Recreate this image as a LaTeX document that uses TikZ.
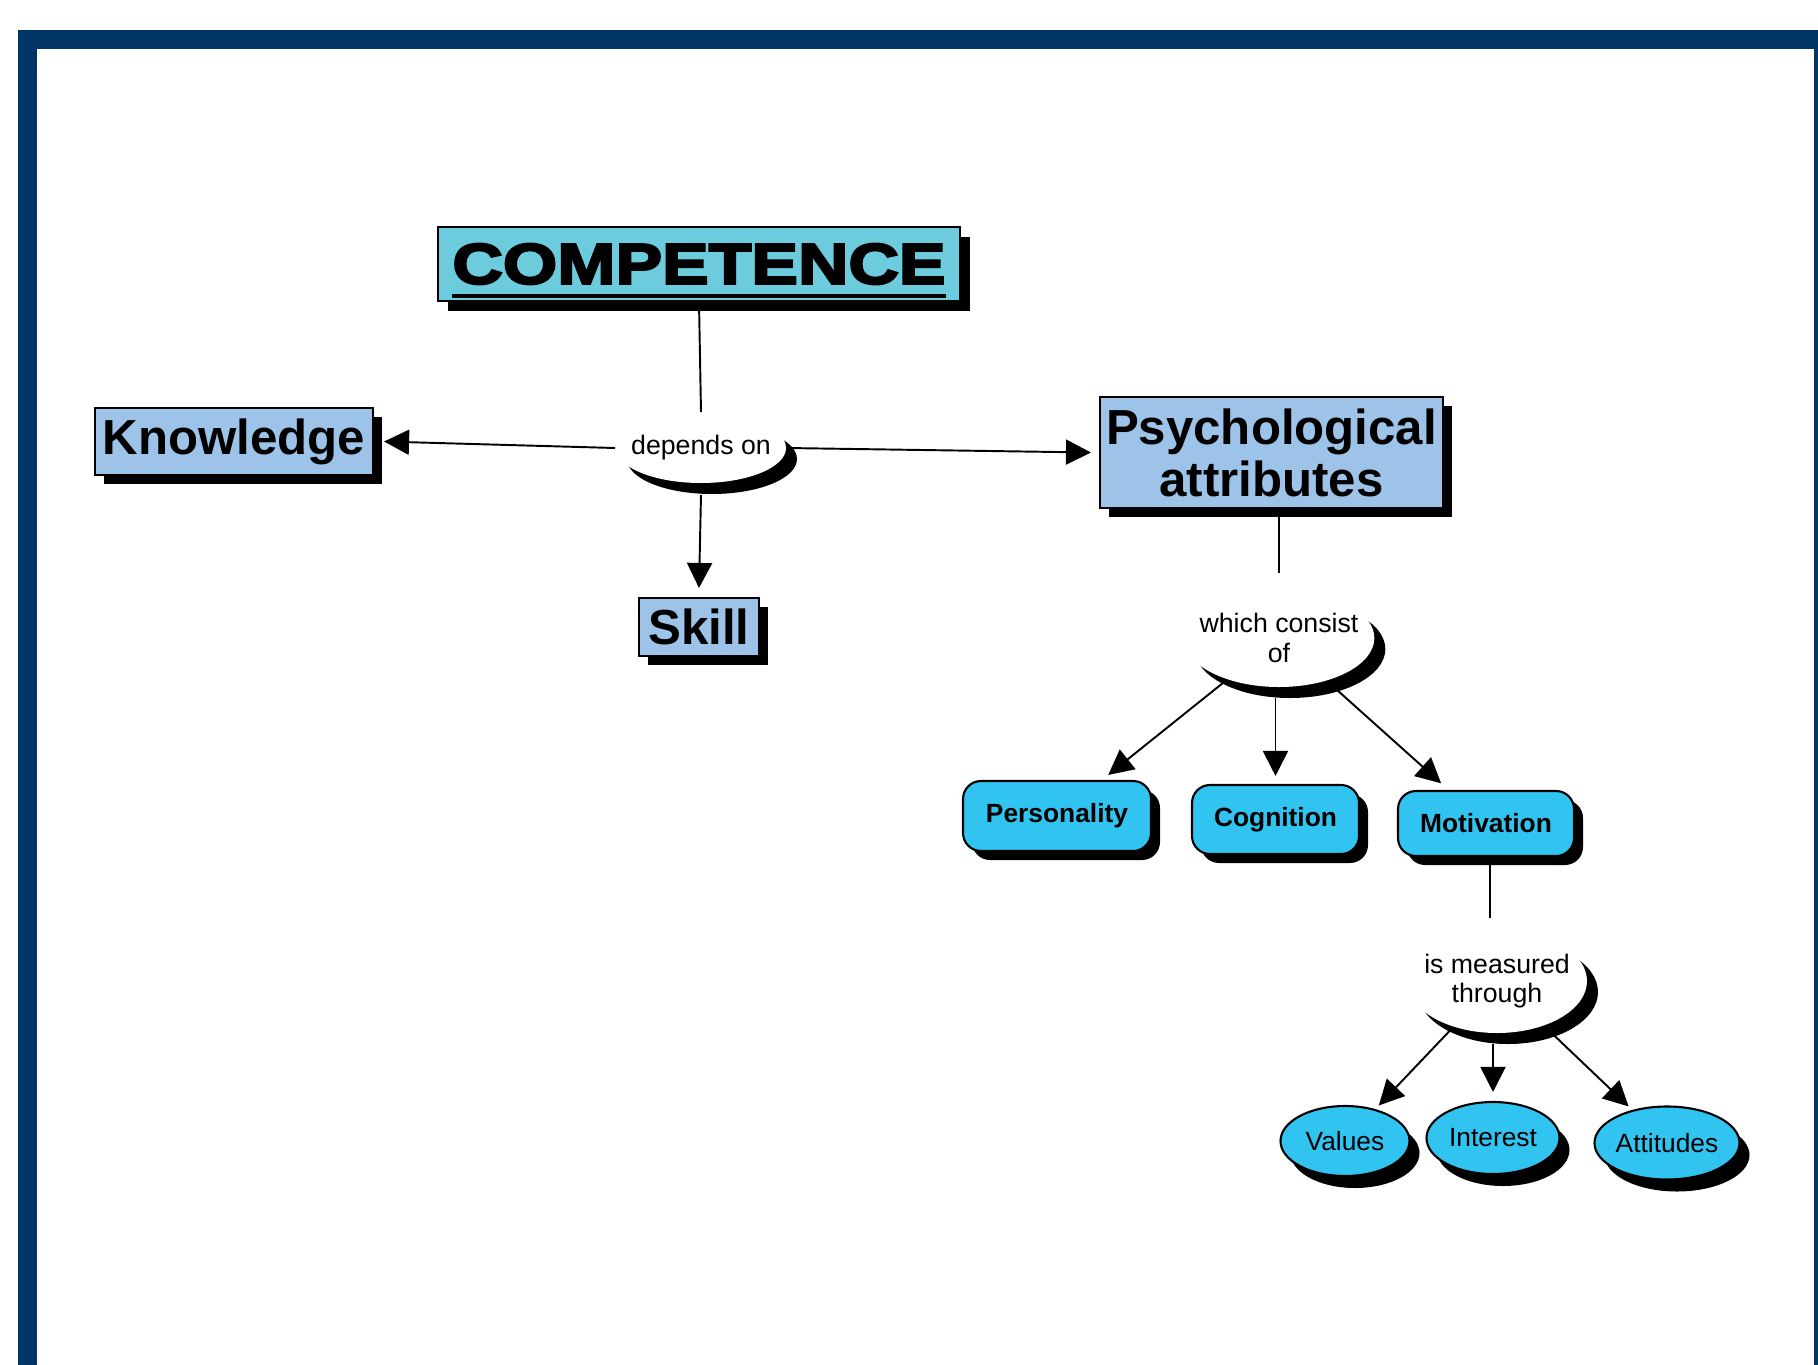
\documentclass[tikz,border=0pt]{standalone}
\usepackage{fontspec}
\setmainfont{Liberation Sans}
\newfontfamily\titlefont[FakeStretch=1.22,FakeBold=4]{Liberation Sans Bold}
\usetikzlibrary{positioning,arrows.meta,shapes.geometric,shadows}
\definecolor{frameNavy}{RGB}{0,53,102}
\definecolor{titleTeal}{RGB}{108,203,220}
\definecolor{conceptBlue}{RGB}{157,196,232}
\definecolor{traitCyan}{RGB}{50,196,240}
\newcommand{\thickUl}[1]{\leavevmode\setbox0\hbox{#1}%
  \rlap{\smash{\rule[-0.14cm]{\wd0}{0.035cm}}}\box0}

\begin{document}
\begin{tikzpicture}[
  line width=0.55pt,
  blackShadow/.style 2 args={drop shadow={shadow xshift=#1, shadow yshift=-#2,
                             fill=black, opacity=1}},
  compBox/.style={draw, line width=0.6pt, fill=titleTeal, inner sep=0pt,
                  minimum width=5.22cm, minimum height=0.74cm,
                  font=\fontsize{16.3}{17}\titlefont, blackShadow={0.1cm}{0.1cm}},
  conceptBox/.style={draw, line width=0.6pt, fill=conceptBlue, inner sep=0pt,
                     align=center, font=\fontsize{14}{14.8}\selectfont\bfseries,
                     blackShadow={0.09cm}{0.09cm}},
  traitBox/.style={draw, line width=0.6pt, fill=traitCyan, rounded corners=0.18cm,
                   inner sep=0pt, font=\fontsize{7.5}{8}\selectfont\bfseries,
                   blackShadow={0.09cm}{0.09cm}},
  measureOval/.style={ellipse, draw, line width=0.6pt, fill=traitCyan, inner sep=0pt,
                      font=\fontsize{7.5}{8}\selectfont, blackShadow={0.1cm}{0.12cm}},
  linkOval/.style={ellipse, fill=white, inner xsep=-0.12cm, inner ysep=0pt,
                   align=center, font=\fontsize{7.6}{8.4}\selectfont,
                   blackShadow={0.11cm}{0.11cm}},
  >={Triangle[length=0.25cm,width=0.25cm]}
]
  \useasboundingbox (0,0) rectangle (18.18,-13.65);

  % Frame (open at the bottom)
  \begin{scope}
    \clip (0,0) rectangle (18.18,-13.65);
    \fill[frameNavy] (0.18,-0.30) rectangle (18.40,-13.90);
    \fill[white] (0.37,-0.49) rectangle (18.14,-13.90);
  \end{scope}

  % Top concept and its link
  \node[compBox] (comp) at (6.99,-2.64) {\thickUl{COMPETENCE}};
  \node[linkOval, minimum width=1.70cm, minimum height=0.70cm] (dep) at (7.01,-4.48) {depends on};

  \node[conceptBox, minimum width=2.78cm, minimum height=0.67cm] (know) at (2.34,-4.415) {Knowledge};
  \node[conceptBox, minimum width=1.20cm, minimum height=0.58cm] (skill) at (6.99,-6.27) {Skill};
  \node[conceptBox, minimum width=3.43cm, minimum height=1.11cm] (psy) at (12.715,-4.525)
    {Psychological\\attributes};

  % Psychological attributes branch
  \node[linkOval, minimum width=1.90cm, minimum height=0.98cm] (cons) at (12.79,-6.38) {which consist\\of};
  \node[traitBox, minimum width=1.88cm, minimum height=0.70cm] (pers) at (10.57,-8.16) {Personality};
  \node[traitBox, minimum width=1.67cm, minimum height=0.69cm] (cog) at (12.755,-8.195) {Cognition};
  \node[traitBox, minimum width=1.76cm, minimum height=0.65cm] (mot) at (14.86,-8.235) {Motivation};

  % Motivation branch
  \node[linkOval, minimum width=1.80cm, minimum height=1.04cm] (meas) at (14.97,-9.81) {is measured\\through};
  \node[measureOval, minimum width=1.29cm, minimum height=0.70cm] (val) at (13.45,-11.41) {Values};
  \node[measureOval, minimum width=1.33cm, minimum height=0.72cm] (inter) at (14.93,-11.38) {Interest};
  \node[measureOval, minimum width=1.44cm, minimum height=0.73cm] (att) at (16.67,-11.43) {Attitudes};

  % Connectors
  \draw (comp.south) -- (dep.north);
  \draw[->] (dep.west) -- ([xshift=0.1cm]know.east);
  \draw[->] (dep.east) -- ([xshift=-0.08cm]psy.west);
  \draw[->] ([yshift=-0.11cm]dep.south) -- ([yshift=0.09cm]skill.north);

  \draw (cons.north |- psy.south) -- ([yshift=0.15cm]cons.north);
  \draw[->, shorten >=0.08cm] (cons) -- (pers);
  \draw[->] ([yshift=-0.1cm]cog.north |- cons.south) -- ([yshift=0.08cm]cog.north);
  \draw[->, shorten >=0.1cm] (cons) -- (mot);

  \draw ([xshift=0.04cm]mot.south) -- ([xshift=0.04cm,yshift=0.1cm]mot.south |- meas.north);
  \draw[->, shorten >=0.05cm] (meas) -- (val);
  \draw[->] ([yshift=-0.1cm]inter.north |- meas.south) -- ([yshift=0.09cm]inter.north);
  \draw[->, shorten >=0.05cm] (meas) -- (att);
\end{tikzpicture}
\end{document}
